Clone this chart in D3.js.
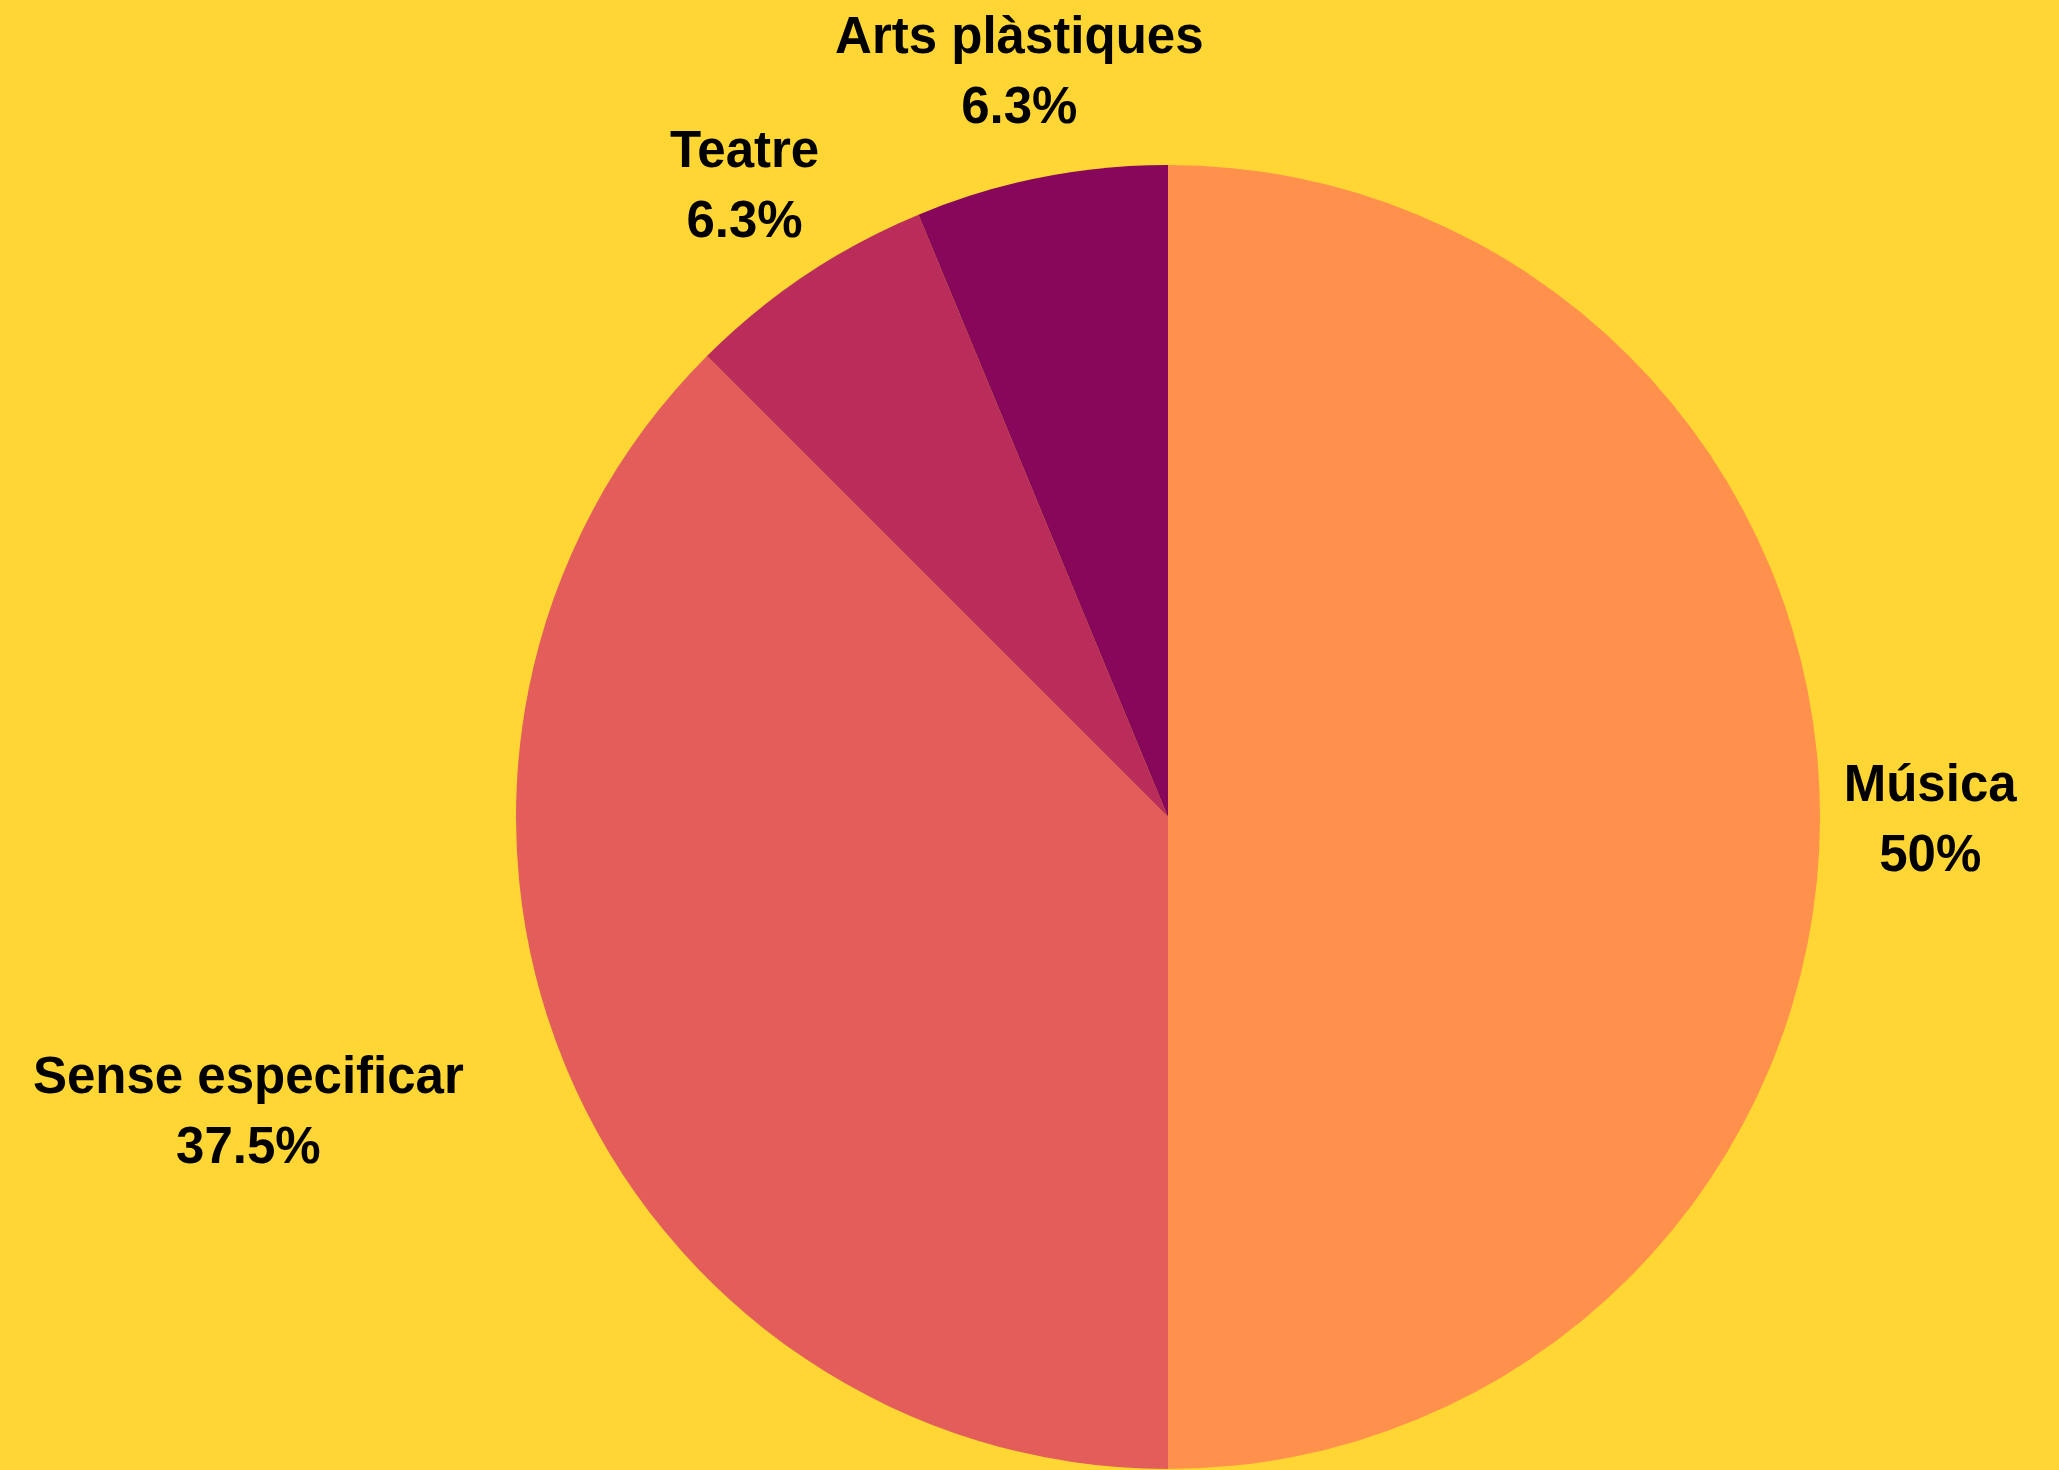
<!DOCTYPE html>
<html>
<head>
<meta charset="utf-8">
<script src="https://cdn.jsdelivr.net/npm/d3@7"></script>
<style>
  html, body { margin: 0; padding: 0; background: #FFD633; }
  svg { display: block; }
  text { font-family: "Liberation Sans", Arial, sans-serif; font-weight: bold; fill: #000; }
</style>
</head>
<body>
<div id="chart-container"></div>
<script>
const categories = ["Música", "Sense especificar", "Teatre", "Arts plàstiques"];
const values = [50, 37.5, 6.25, 6.25];
const colors = ["#FF914D", "#E35D5A", "#BA2D5B", "#87085A"];

const width = 2059;
const height = 1470;
const cx = 1168, cy = 817;
const radius = 652;
const fontSize = 51;

const data = categories.map((c, i) => ({ name: c, value: values[i], color: colors[i] }));

const svg = d3
  .select("#chart-container")
  .append("svg")
  .attr("width", width)
  .attr("height", height);

svg.append("rect").attr("width", width).attr("height", height).attr("fill", "#FFD633");

const g = svg.append("g").attr("transform", `translate(${cx},${cy})`);

const pie = d3.pie().sort(null).value((d) => d.value);
const arc = d3.arc().innerRadius(0).outerRadius(radius);
const labelArc = d3.arc().innerRadius(radius * 1.169).outerRadius(radius * 1.169);

const arcs = pie(data);

g.selectAll("path")
  .data(arcs)
  .join("path")
  .attr("fill", (d) => d.data.color)
  .attr("d", arc);

const fmt = d3.format(".1~f");

const labels = g
  .selectAll("g.label")
  .data(arcs)
  .join("g")
  .attr("class", "label");

labels.each(function (d) {
  const el = d3.select(this);
  const t1 = el.append("text").attr("text-anchor", "middle").attr("font-size", fontSize).attr("y", -16).text(d.data.name);
  const t2 = el.append("text").attr("text-anchor", "middle").attr("font-size", fontSize).attr("y", 54).text(fmt(d.data.value) + "%");
  const w = Math.max(t1.node().getComputedTextLength(), t2.node().getComputedTextLength());
  let [x, y] = labelArc.centroid(d);
  // push the block sideways if it would sit on top of the pie
  const top = y - 53, bottom = y + 53;
  const nearY = Math.max(Math.abs(top) < Math.abs(bottom) ? Math.abs(top) : Math.abs(bottom), 0);
  const nearX = x < 0 ? x + w / 2 : x - w / 2;
  if (Math.abs(nearY) < radius) {
    const edge = Math.sqrt(radius * radius - nearY * nearY);
    if ((x < 0 && nearX > -edge) || (x > 0 && nearX < edge)) {
      x += (x < 0 ? -1 : 1) * w / 2;
    }
  }
  el.attr("transform", `translate(${x},${y})`);
});
</script>
</body>
</html>
